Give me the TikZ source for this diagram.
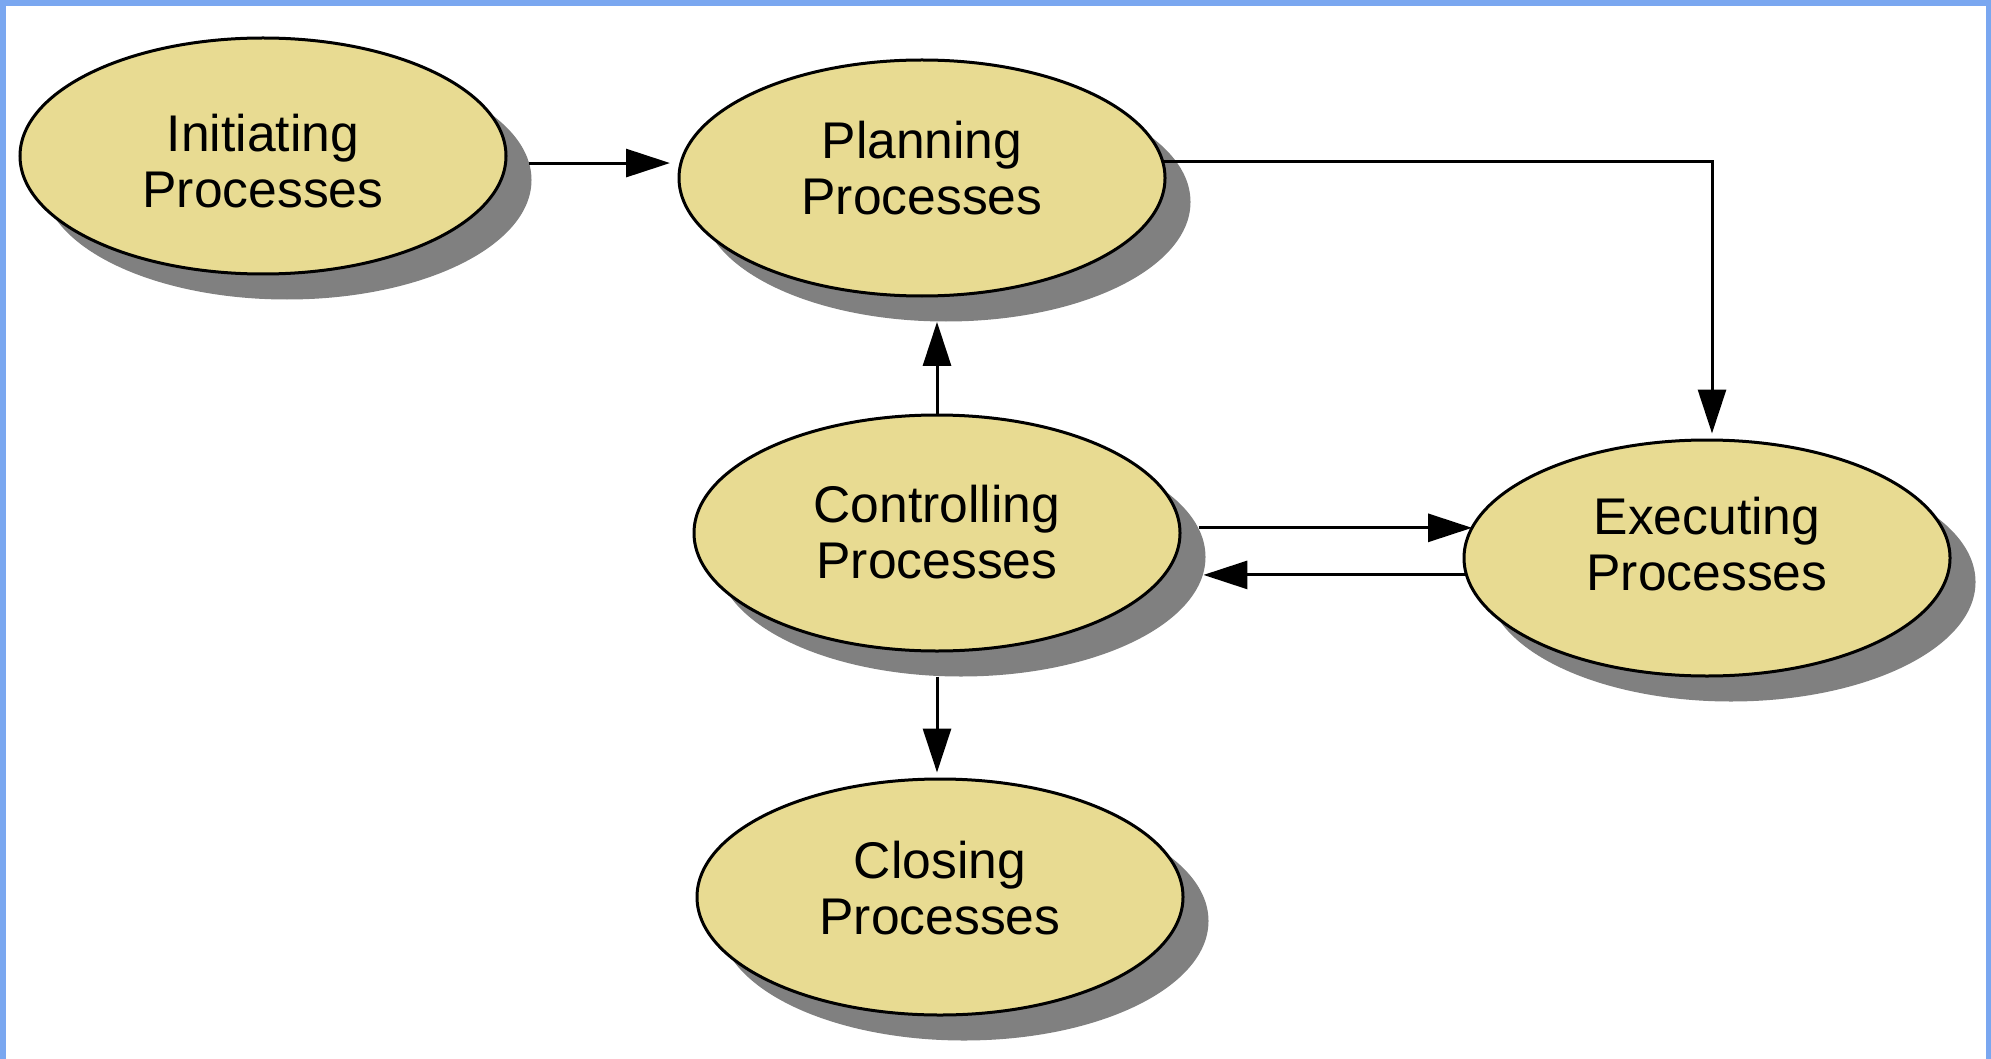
\documentclass[tikz,border=0pt]{standalone}
\usepackage{fontspec}
\setmainfont{Liberation Sans}
\usetikzlibrary{shapes.geometric,arrows.meta}
\definecolor{procfill}{HTML}{E8DB92}
\definecolor{procshadow}{HTML}{808080}
\definecolor{frameblue}{HTML}{7AA7F0}
\begin{document}
\begin{tikzpicture}[x=0.5pt,y=-0.5pt,
  procbox/.style={ellipse, draw=black, line width=1.5pt, fill=procfill,
    minimum width=243pt, minimum height=118pt, inner sep=0pt},
  procshade/.style={ellipse, fill=procshadow, draw=none,
    minimum width=244.5pt, minimum height=119.5pt, inner sep=0pt},
  proctext/.style={align=center, inner sep=0pt,
    font=\fontsize{25.8}{28}\selectfont},
  flowarrow/.style={line width=1.5pt, -{Triangle[length=22pt,width=14pt]}}]

% canvas and frame
\fill[white] (0,0) rectangle (1991,1059);
\fill[frameblue] (0,0) rectangle (1991,6);
\fill[frameblue] (0,0) rectangle (6,1059);
\fill[frameblue] (1986,0) rectangle (1991,1059);

% drop shadows
\node[procshade] (ish) at (287,180) {};
\node[procshade] (psh) at (946,202) {};
\node[procshade] (csh) at (961,557) {};
\node[procshade] (esh) at (1731,582) {};
\node[procshade] (clsh) at (964,921) {};

% process ellipses
\node[procbox] (init) at (263,156) {};
\node[procbox] (plan) at (922,178) {};
\node[procbox] (ctrl) at (937,533) {};
\node[procbox] (exec) at (1707,558) {};
\node[procbox] (close) at (940,897) {};

% labels
\node[proctext] (init-t) at ([shift={(0,5)}]init.center) {Initiating\\Processes};
\node[proctext] (plan-t) at ([shift={(0,-10)}]plan.center) {Planning\\Processes};
\node[proctext] (ctrl-t) at ([shift={(0,-1)}]ctrl.center) {Controlling\\Processes};
\node[proctext] (exec-t) at ([shift={(0,-14)}]exec.center) {Executing\\Processes};
\node[proctext] (close-t) at ([shift={(0,-9)}]close.center) {Closing\\Processes};

% connectors
\draw[flowarrow, shorten >=3.75pt] (ish.4.73) -- (ish.4.73 -| plan.west);
\draw[flowarrow, shorten >=2.5pt] (plan.4.25) -| ([shift={(5,0)}]exec.north);
\draw[flowarrow] (ctrl.north) -- (ctrl.north |- psh.south);
\draw[flowarrow] (csh.7.46) -- (csh.7.46 -| exec.172.28);
\draw[flowarrow] (exec.184.49) -- (exec.184.49 -| csh.-4.73);
\draw[flowarrow, shorten >=2.5pt] (ctrl.south |- csh.south) -- (ctrl.south |- close.north);
\end{tikzpicture}
\end{document}
